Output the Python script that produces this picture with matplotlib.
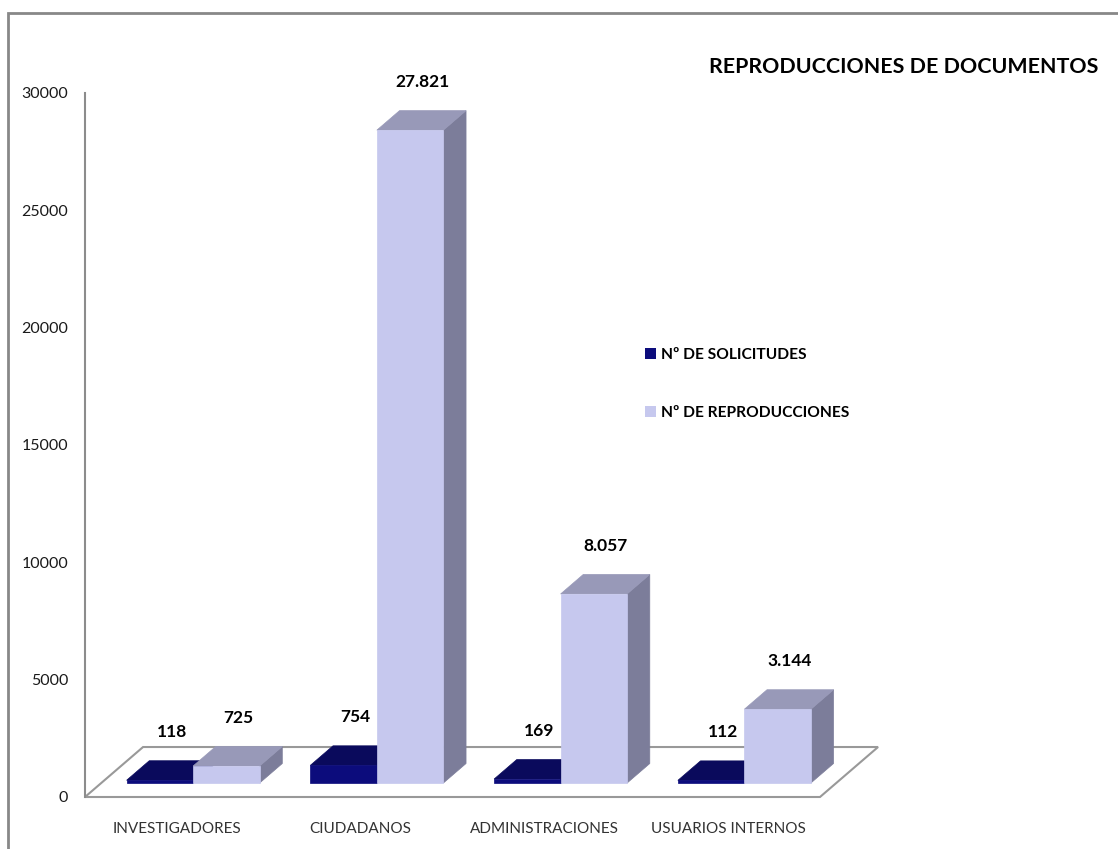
import matplotlib
matplotlib.use('Agg')
import matplotlib.pyplot as plt
from matplotlib.patches import Polygon, Rectangle, Patch

plt.rcParams['font.family'] = ['Lato', 'DejaVu Sans']

categories = ['INVESTIGADORES', 'CIUDADANOS', 'ADMINISTRACIONES', 'USUARIOS INTERNOS']
solicitudes = [118, 754, 169, 112]
reproducciones = [725, 27821, 8057, 3144]
series_names = ['Nº DE SOLICITUDES', 'Nº DE REPRODUCCIONES']
yticks = [0, 5000, 10000, 15000, 20000, 25000, 30000]

# face colours: front, top, side
navy = ('#0c0c7c', '#0a0a5c', '#07074a')
lilac = ('#c6c8ee', '#9899b8', '#7c7d9a')

# depth of the floor, in data units (x: categories, y: values)
floor_dx, floor_dy = 0.316, 2130
front_frac, depth_frac = 0.28, 0.39
bar_w = 0.362


def fmt(v):
    return f'{v:,}'.replace(',', '.')


def draw_box(ax, x0, v, colors, z):
    bx = front_frac * floor_dx
    by = front_frac * floor_dy
    ddx = depth_frac * floor_dx
    ddy = depth_frac * floor_dy
    xl, xr = x0 + bx, x0 + bx + bar_w
    yb, yt = by, by + v
    front = [(xl, yb), (xr, yb), (xr, yt), (xl, yt)]
    top = [(xl, yt), (xr, yt), (xr + ddx, yt + ddy), (xl + ddx, yt + ddy)]
    side = [(xr, yb), (xr + ddx, yb + ddy), (xr + ddx, yt + ddy), (xr, yt)]
    for pts, c in zip((side, top, front), (colors[2], colors[1], colors[0])):
        ax.add_patch(Polygon(pts, closed=True, facecolor=c, edgecolor=c,
                             lw=0.5, clip_on=False, zorder=z))
    return (xl + xr) / 2, yt


fig = plt.figure(figsize=(11.18, 8.49), dpi=100)
ax = fig.add_axes([85 / 1118, 52 / 849, 735 / 1118, 704 / 849])
ax.set_xlim(0, 4)
ax.set_ylim(0, 30000)

# outer chart border (only left and top edges are in view)
fig.patches.append(Rectangle((8 / 1118, -0.1), 1.2, (849 - 13) / 849 + 0.1,
                             transform=fig.transFigure, fill=False,
                             edgecolor='#888888', lw=2))

for s in ['top', 'right', 'bottom']:
    ax.spines[s].set_visible(False)
ax.spines['left'].set_color('#8c8c8c')
ax.spines['left'].set_linewidth(1.5)

ax.set_yticks(yticks)
ax.set_yticklabels([str(t) for t in yticks], fontsize=11.5, color='#1a1a1a')
ax.tick_params(axis='y', length=0, pad=12)
ax.set_xticks([i + 0.5 for i in range(len(categories))])
ax.set_xticklabels(categories, fontsize=11, color='#333333')
ax.tick_params(axis='x', length=0, pad=18)

# floor
n = len(categories)
floor = [(0, 0), (n, 0), (n + floor_dx, floor_dy), (floor_dx, floor_dy)]
ax.add_patch(Polygon(floor, closed=True, facecolor='white', edgecolor='#999999',
                     lw=1.5, clip_on=False, zorder=1))

for i in range(n):
    x0 = i + 0.5 - bar_w
    for j, (vals, cols) in enumerate(((solicitudes, navy), (reproducciones, lilac))):
        cx, top = draw_box(ax, x0 + j * bar_w, vals[i], cols, 3 + j)
        ax.annotate(fmt(vals[i]), (cx, top), xytext=(12, 48),
                    textcoords='offset pixels', ha='center', va='center',
                    fontsize=12.5, fontweight='bold', color='black',
                    annotation_clip=False)

fig.text(1098 / 1118, 1 - 67 / 849, 'REPRODUCCIONES DE DOCUMENTOS', ha='right',
         va='center', fontsize=15.4, fontweight='bold', color='black')

handles = [Patch(facecolor=navy[0]), Patch(facecolor=lilac[0])]
leg = fig.legend(handles, series_names, loc='upper left',
                 bbox_to_anchor=(631 / 1118, 1 - 334 / 849), frameon=False,
                 handlelength=0.7, handleheight=0.7, handletextpad=0.3,
                 labelspacing=2.8, prop={'size': 11.2, 'weight': 'bold'})

fig.savefig('out.png', dpi=100)
